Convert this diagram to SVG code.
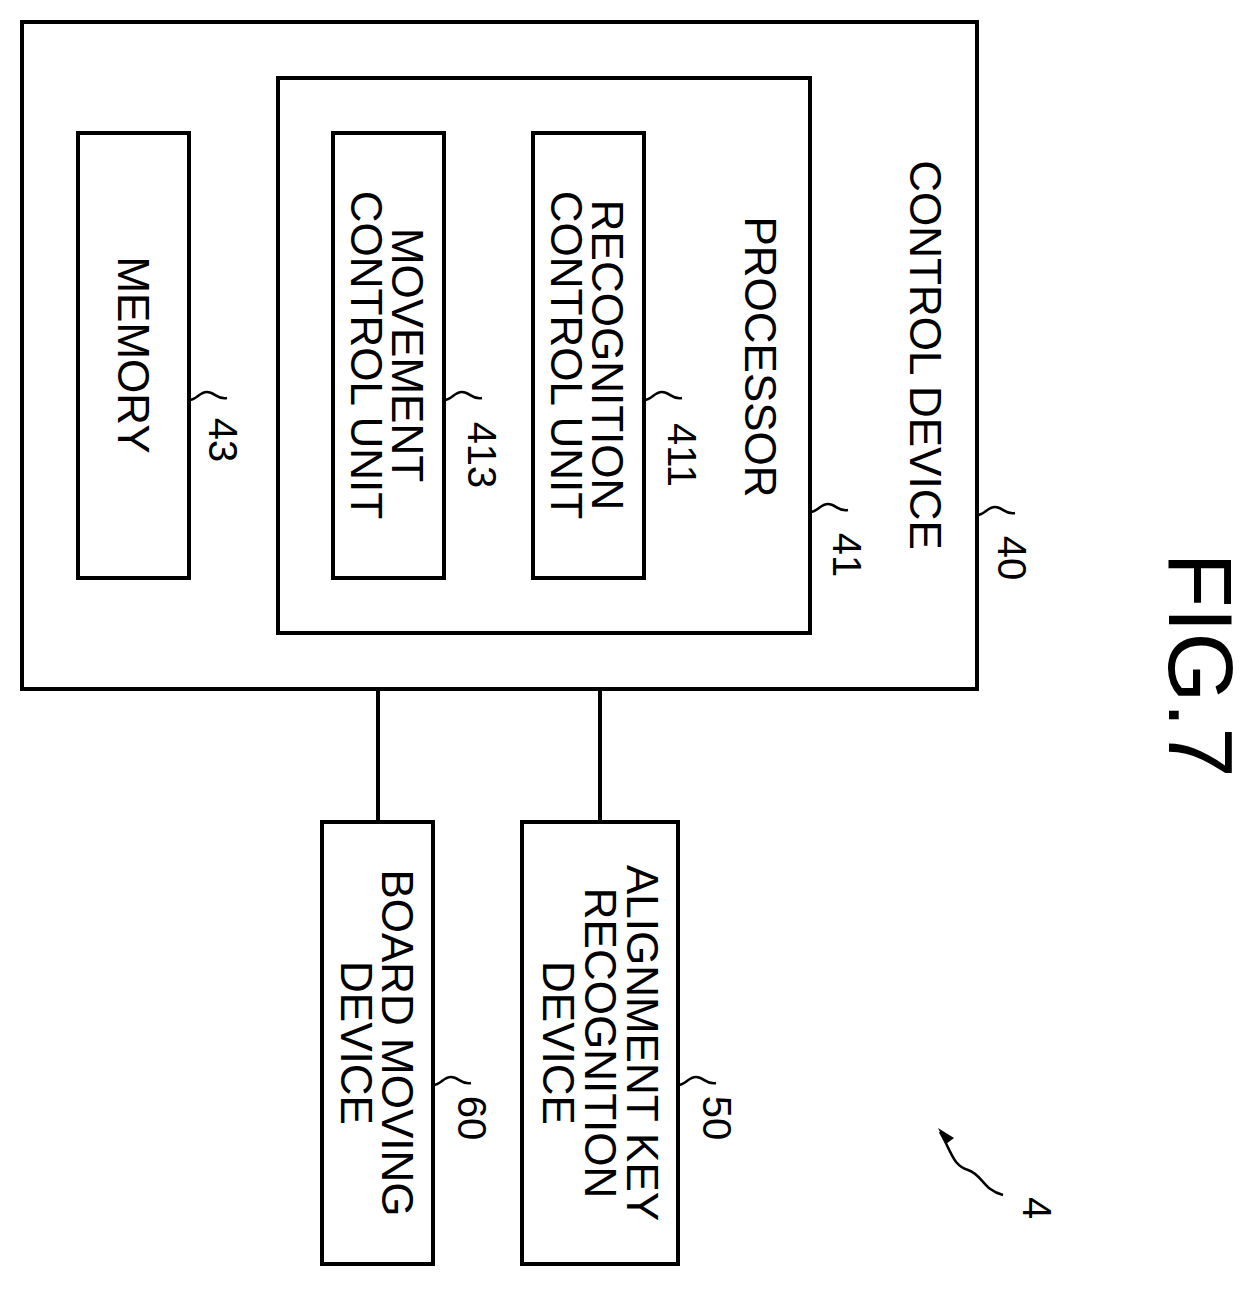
<svg xmlns="http://www.w3.org/2000/svg" width="1255" height="1290" viewBox="0 0 1255 1290">
<style>
rect{fill:none;stroke:#000;stroke-width:4}
.c line{stroke:#000;stroke-width:4}
text{font-family:"Liberation Sans",Arial,sans-serif;font-size:44px;text-anchor:middle;dominant-baseline:central;fill:#000}
.n{font-size:40px}
.l{fill:none;stroke:#000;stroke-width:2.5}
</style>
<rect x="0" y="0" width="1255" height="1290" style="fill:#fff;stroke:none"/>
<g id="n40"><rect x="22" y="22" width="955" height="667"/>
<text transform="translate(925,355) rotate(90)">CONTROL DEVICE</text>
<path class="l" d="M977,515 c8,0 10,-8 18,-8 s10,8 20,6"/><text class="n" transform="translate(1012,558) rotate(90)">40</text></g>
<g id="n41"><rect x="278" y="78" width="532" height="555"/>
<text transform="translate(760,357) rotate(90)">PROCESSOR</text>
<path class="l" d="M810,512 c8,0 10,-8 18,-8 s10,8 20,6"/><text class="n" transform="translate(847,555) rotate(90)">41</text></g>
<g id="n411"><rect x="533" y="133" width="111" height="445"/>
<text transform="translate(607,355) rotate(90)">RECOGNITION</text>
<text transform="translate(566,355) rotate(90)">CONTROL UNIT</text>
<path class="l" d="M644,400 c8,0 10,-8 18,-8 s10,8 20,6"/><text class="n" transform="translate(682,455) rotate(90)">411</text></g>
<g id="n413"><rect x="333" y="133" width="111" height="445"/>
<text transform="translate(407,355) rotate(90)">MOVEMENT</text>
<text transform="translate(366,355) rotate(90)">CONTROL UNIT</text>
<path class="l" d="M444,400 c8,0 10,-8 18,-8 s10,8 20,6"/><text class="n" transform="translate(482,455) rotate(90)">413</text></g>
<g id="n43"><rect x="78" y="133" width="111" height="445"/>
<text transform="translate(133,355) rotate(90)">MEMORY</text>
<path class="l" d="M189,400 c8,0 10,-8 18,-8 s10,8 20,6"/><text class="n" transform="translate(223,440) rotate(90)">43</text></g>
<g id="n50"><rect x="522" y="822" width="156" height="442"/>
<text transform="translate(642,1043) rotate(90)">ALIGNMENT KEY</text>
<text transform="translate(600,1043) rotate(90)">RECOGNITION</text>
<text transform="translate(558,1043) rotate(90)">DEVICE</text>
<path class="l" d="M678,1085 c8,0 10,-8 18,-8 s10,8 20,6"/><text class="n" transform="translate(717,1118) rotate(90)">50</text></g>
<g id="n60"><rect x="322" y="822" width="111" height="442"/>
<text transform="translate(397,1043) rotate(90)">BOARD MOVING</text>
<text transform="translate(356,1043) rotate(90)">DEVICE</text>
<path class="l" d="M433,1085 c8,0 10,-8 18,-8 s10,8 20,6"/><text class="n" transform="translate(472,1118) rotate(90)">60</text></g>
<g id="n4"><path class="l" d="M1003,1195 c-20,-5 -20,-20 -35,-25 s-15,-15 -28,-38"/>
<path d="M938,1128 l16,10 l-8,6 z" fill="#000"/>
<text class="n" transform="translate(1037,1208) rotate(90)">4</text></g>
<g class="c" id="connectors"><line x1="378" y1="689" x2="378" y2="822"/><line x1="600" y1="689" x2="600" y2="822"/></g>
<text transform="translate(1200,665) rotate(90)" style="font-size:90px">FIG.7</text>
</svg>
